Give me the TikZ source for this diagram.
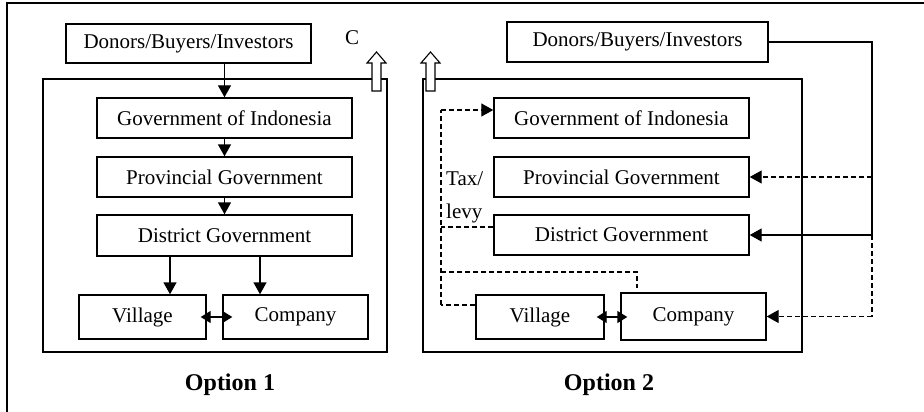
\documentclass[tikz,border=0pt]{standalone}
\usepackage{fontspec}
\setmainfont{Liberation Serif}
\usetikzlibrary{arrows.meta}
\begin{document}
\begin{tikzpicture}[x=1pt,y=-1pt,
  every node/.style={font=\fontsize{21}{25}\selectfont, inner sep=0pt},
  box/.style={draw, line width=1.4pt, minimum height=40pt},
  frame/.style={draw, line width=1.4pt},
  tip/.tip={Triangle[length=12pt,width=13pt]},
  arr/.style={line width=1.4pt, -tip},
  dbl/.style={line width=1.4pt, {Triangle[length=10pt,width=12pt]}-{Triangle[length=10pt,width=12pt]}},
  dsh/.style={line width=1.3pt, dash pattern=on 5pt off 3pt},
  hollow/.style={draw, line width=1.1pt, fill=white},
  optlabel/.style={font=\fontsize{24}{28}\selectfont\bfseries}]
\useasboundingbox (0,0) rectangle (924,412);
\fill[white] (0,0) rectangle (924,412);
% outer frame (top and left)
\draw[line width=1.6pt] (7,412) -- (7,3) -- (924,3);

% ---------- Option 1 ----------
\draw[frame] (43,79) rectangle (387,352);
\node[box, minimum width=245pt, minimum height=39pt] (d1) at (188.5,43.5) {Donors/Buyers/Investors};
\node (cl) at (352,38) {C};
\node[box, minimum width=255pt] (g1) at (224.5,118) {Government of Indonesia};
\node[box, minimum width=255pt] (p1) at (224.5,177) {Provincial Government};
\node[box, minimum width=255pt, minimum height=41pt] (dg1) at (224.5,235.5) {District Government};
\node[box, minimum width=127pt, minimum height=44pt] (v1) at (142.5,317) {Village};
\node[box, minimum width=145pt, minimum height=44pt] (c1) at (295.5,317) {Company};
\node[optlabel] (o1) at (230,385) {Option 1};
\draw[hollow] (372,91) -- (372,63) -- (367,63) -- (376.5,52) -- (386,63) -- (381,63) -- (381,91) -- cycle;

\draw[arr] (d1.south -| g1.north) -- (g1.north);
\draw[arr] (g1.south) -- (p1.north);
\draw[arr] (p1.south) -- (dg1.north);
\draw[arr] ([xshift=-54.5pt]dg1.south) -- ([xshift=-54.5pt]dg1.south |- v1.north);
\draw[arr] ([xshift=35.5pt]dg1.south) -- ([xshift=35.5pt]dg1.south |- c1.north);
\draw[dbl] ([xshift=-6pt]v1.east) -- ([xshift=10pt]c1.west);

% ---------- Option 2 ----------
\draw[frame] (423,79) rectangle (802,352);
\node[box, minimum width=261pt] (d2) at (637.5,42) {Donors/Buyers/Investors};
\node[box, minimum width=255pt] (g2) at (621.5,118) {Government of Indonesia};
\node[box, minimum width=255pt] (p2) at (621.5,177) {Provincial Government};
\node[box, minimum width=255pt] (dg2) at (621.5,235) {District Government};
\node[box, minimum width=128pt, minimum height=44pt] (v2) at (540,317) {Village};
\node[box, minimum width=145pt, minimum height=47pt] (c2) at (693.5,316.5) {Company};
\node[optlabel] (o2) at (609,385) {Option 2};
\draw[hollow] (426,91) -- (426,63) -- (421,63) -- (430.5,52) -- (440,63) -- (435,63) -- (435,91) -- cycle;

% right-hand feed lines
\coordinate (r1) at (872,42);
\coordinate (r2) at (872,177);
\coordinate (r3) at (872,235);
\coordinate (r4) at (872,316.5);
\draw[line width=1.4pt] (d2.east) -- (r1) -- (r3);
\draw[arr] (r3) -- (dg2.east);
\draw[dsh, -tip] (r2) -- (p2.east);
\draw[dsh] (r3) -- (r4);
\draw[dsh, -tip] (r4) -- (c2.east);
\draw[dbl] ([xshift=-8pt]v2.east) -- ([xshift=7pt]c2.west |- v2.east);

% left-hand tax/levy lines
\coordinate (l1) at (441,110);
\coordinate (l2) at (441,227);
\coordinate (l3) at (441,272);
\coordinate (l4) at (441,305);
\coordinate (k1) at (637,272);
\coordinate (k2) at (637,288);
\draw[dsh] (l4) -- (l1);
\draw[dsh, -tip] (l1) -- (g2.west |- l1);
\draw[dsh] (dg2.west |- l2) -- (l2);
\draw[dsh] (v2.west |- l4) -- (l4);
\draw[dsh] (l3) -- (k1) -- (k2);
\node[anchor=base west] (tax) at (446,185) {Tax/};
\node[anchor=base west] (levy) at (446,218) {levy};
\end{tikzpicture}
\end{document}
